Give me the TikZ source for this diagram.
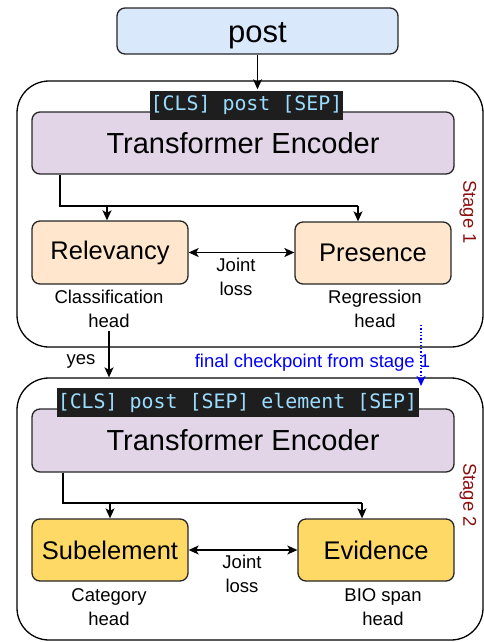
\documentclass[tikz,border=0pt]{standalone}
\usepackage{fontspec}
\setmainfont{Liberation Sans}
\newfontfamily\codefont{DejaVu Sans Mono}
\usepackage{tikz}
\usetikzlibrary{arrows.meta}
\definecolor{postfill}{HTML}{DAE8FC}
\definecolor{encfill}{HTML}{E1D5E7}
\definecolor{headone}{HTML}{FFE6CC}
\definecolor{headtwo}{HTML}{FFD966}
\definecolor{codebg}{HTML}{1E1E1E}
\definecolor{codefg}{HTML}{9CDCFE}
\definecolor{stagered}{HTML}{8B1010}

\begin{document}
\begin{tikzpicture}[x=1pt, y=-1pt,
        box/.style={draw=black!85, line width=1.3pt, rounded corners=8pt, inner sep=0pt, align=center},
        stagebox/.style={draw=black, line width=1.3pt, rounded corners=32pt, inner sep=0pt},
        codelabel/.style={fill=codebg, text=codefg, inner sep=0pt, font=\codefont\fontsize{19.9}{24}\selectfont},
        small/.style={align=center, font=\fontsize{18.5}{23.5}\selectfont},
        headfont/.style={font=\fontsize{25.5}{30}\selectfont},
        conn/.style={line width=1.4pt, -{Stealth[length=10pt, width=9pt, inset=2.5pt]}},
        both/.style={line width=1.4pt, {Stealth[length=10pt, width=9pt, inset=2.5pt]}-{Stealth[length=10pt, width=9pt, inset=2.5pt]}}]
        \useasboundingbox (0,0) rectangle (484,642);

        \node[stagebox, minimum width=466pt, minimum height=266pt] (stageone) at (250,214) {};
        \node[stagebox, minimum width=466pt, minimum height=262pt] (stagetwo) at (250,509) {};

        \node[box, fill=postfill, minimum width=281pt, minimum height=46pt, text height=27pt, text depth=3pt, font=\fontsize{31}{37}\selectfont] (post) at (257.5,31) {post};

        \node[box, fill=encfill, minimum width=422pt, minimum height=62pt, font=\fontsize{29}{35}\selectfont] (encone) at (243,143) {Transformer Encoder};
        \node[codelabel, minimum width=193pt, minimum height=29pt] (clsone) at (246.5,105.5) {[CLS] post [SEP]};

        \node[box, fill=headone, minimum width=156pt, minimum height=63pt, headfont] (rel) at (110,252.5) {Relevancy};
        \node[box, fill=headone, minimum width=156pt, minimum height=62pt, headfont] (pres) at (373,253) {Presence};
        \node[small] (jointone) at (236,277) {Joint\\loss};
        \node[small] (clshead) at (109,309) {Classification\\head};
        \node[small] (reghead) at (375,309) {Regression\\head};
        \node[small, text=stagered, rotate=-90] (labone) at (468,212) {Stage 1};

        \node[box, fill=encfill, minimum width=422pt, minimum height=63pt, font=\fontsize{29}{35}\selectfont] (enctwo) at (243,440.5) {Transformer Encoder};
        \node[codelabel, minimum width=362pt, minimum height=29pt] (clstwo) at (237.5,402.5) {[CLS] post [SEP] element [SEP]};

        \node[box, fill=headtwo, minimum width=156pt, minimum height=62pt, headfont] (sub) at (110,550) {Subelement};
        \node[box, fill=headtwo, minimum width=156pt, minimum height=62pt, headfont] (evi) at (376,550) {Evidence};
        \node[small] (jointtwo) at (242,574) {Joint\\loss};
        \node[small] (cathead) at (109,607) {Category\\head};
        \node[small] (biohead) at (383,607) {BIO span\\head};
        \node[small, text=stagered, rotate=-90] (labtwo) at (468,495) {Stage 2};

        \node[small, anchor=east] (yes) at (99,361) {yes};
        \node[small, text=blue] (ckpt) at (312.5,363) {final checkpoint from stage 1};

        \coordinate (splitone) at (60,206);
        \coordinate (toone) at (107,206);
        \coordinate (totwo) at (358,206);
        \coordinate (splittwo) at (63,503);
        \coordinate (tothree) at (110,503);
        \coordinate (tofour) at (362,503);
        \coordinate (ckstart) at (421,325);
        \coordinate (ckend) at (421,386);

        \draw[conn, shorten >=1.5pt] (post.south) -- (post.south |- clsone.north);
        \draw[line width=1.4pt] (encone.south -| splitone) -- (splitone) -- (totwo);
        \draw[conn] (toone) -- (toone |- rel.north);
        \draw[conn] (totwo) -- (totwo |- pres.north);
        \draw[both] (rel.east) -- (rel.east -| pres.west);

        \draw[conn] (clshead.south) -- (clshead.south |- stagetwo.north);
        \draw[blue, line width=1.3pt, dotted, -{Stealth[length=10pt, width=9pt, inset=2.5pt]}] (ckstart) -- (ckend);

        \draw[line width=1.4pt] (enctwo.south -| splittwo) -- (splittwo) -- (tofour);
        \draw[conn] (tothree) -- (tothree |- sub.north);
        \draw[conn] (tofour) -- (tofour |- evi.north);
        \draw[both] (sub.east) -- (sub.east -| evi.west);
    \end{tikzpicture}
\end{document}
